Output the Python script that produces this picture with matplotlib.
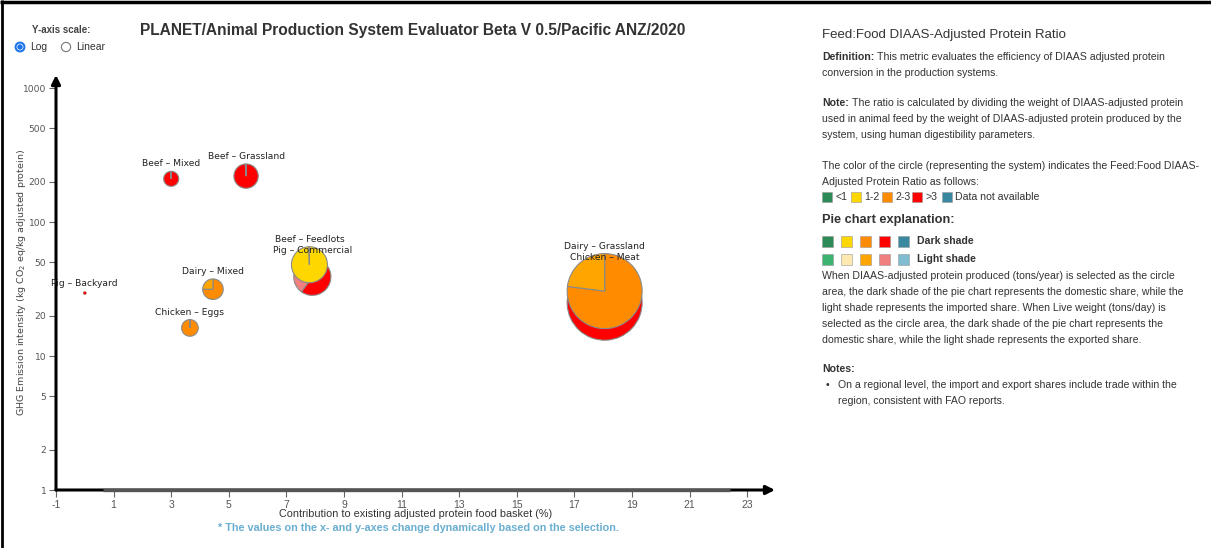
import matplotlib
matplotlib.use("Agg")
import matplotlib.pyplot as plt
from matplotlib.patches import Wedge, Circle, Rectangle
import numpy as np

# ---- data -------------------------------------------------------------
systems = ["Chicken – Meat", "Dairy – Grassland", "Pig – Commercial", "Beef – Feedlots",
           "Beef – Grassland", "Beef – Mixed", "Dairy – Mixed", "Chicken – Eggs", "Pig – Backyard"]
contribution = [18.05, 18.05, 7.9, 7.8, 5.6, 3.0, 4.45, 3.65, 0.0]        # % of protein basket
ghg_intensity = [25.0, 30.5, 39.0, 48.0, 220.0, 210.0, 31.5, 16.2, 29.5]   # kg CO2 eq / kg adj. protein
protein_produced = [100.0, 100.0, 24.5, 23.0, 10.5, 4.0, 7.5, 4.9, 0.18]  # relative, circle area
domestic_share = [0.99, 0.77, 0.60, 0.995, 0.99, 0.99, 0.75, 0.995, 1.0]
ratio_class = [">3", "2-3", ">3", "1-2", ">3", ">3", "2-3", "2-3", ">3"]

ratio_labels = ["<1", "1-2", "2-3", ">3", "Data not available"]
dark_colors = {"<1": "#2e8b57", "1-2": "#ffd700", "2-3": "#ff8c00", ">3": "#ff0000",
               "Data not available": "#3a87a0"}
light_colors = {"<1": "#3cb371", "1-2": "#fde8b0", "2-3": "#ffa500", ">3": "#f08080",
                "Data not available": "#7fbccf"}

x_ticks = list(range(-1, 24, 2))
y_ticks = [1, 2, 5, 10, 20, 50, 100, 200, 500, 1000]

W, H = 1211, 548
fig = plt.figure(figsize=(W / 100, H / 100), dpi=100)
fig.patch.set_facecolor("white")

# main scatter axes
ax = fig.add_axes([56 / W, (H - 490) / H, (775 - 56) / W, (490 - 75) / H])
ax.set_yscale("log")
ax.set_xlim(-1, -1 + 719 / 28.8)
ax.set_ylim(1, 10 ** (415 / 134))
for s in ax.spines.values():
    s.set_visible(False)
ax.set_xticks(x_ticks)
ax.set_xticklabels([str(t) for t in x_ticks])
ax.set_yticks(y_ticks)
ax.set_yticklabels([str(t) for t in y_ticks])
ax.yaxis.set_minor_locator(matplotlib.ticker.NullLocator())
ax.tick_params(axis="both", direction="out", length=5, width=0.8, color="#666",
               labelcolor="#555", labelsize=6.6, pad=2)
for lab in ax.get_xticklabels():
    lab.set_family("Liberation Sans")
    lab.set_fontsize(7.5)
ax.patch.set_alpha(0)

# axis lines with arrow heads
ax.annotate("", xy=(1.0, 0), xytext=(0, 0), xycoords="axes fraction",
            arrowprops=dict(arrowstyle="-|>", lw=2.2, color="black", mutation_scale=13,
                            shrinkA=0, shrinkB=0))
ax.plot([0.63, 22.4], [1, 1], color="#555", lw=2.4, solid_capstyle="butt",
        clip_on=False, zorder=5)
ax.annotate("", xy=(0, 1.0), xytext=(0, 0), xycoords="axes fraction",
            arrowprops=dict(arrowstyle="-|>", lw=2.2, color="black", mutation_scale=13,
                            shrinkA=0, shrinkB=0))

# overlay in pixel coordinates for pies and panel text
ov = fig.add_axes([0, 0, 1, 1])
ov.set_xlim(0, W)
ov.set_ylim(0, H)
ov.axis("off")
ov.patch.set_alpha(0)

rmax = 37.5
pmax = max(protein_produced)
label_font = dict(family="DejaVu Sans", fontsize=6.6, color="#222")
for name, xv, yv, pv, dom, cls in zip(systems, contribution, ghg_intensity,
                                      protein_produced, domestic_share, ratio_class):
    cx, cy = ax.transData.transform((xv, yv))
    r = rmax * np.sqrt(pv / pmax)
    ec = "#8a8a8a"
    lw = 0.8 if r > 3 else 0.3
    # domestic (dark) share runs clockwise from 12 o'clock, remainder is light
    ov.add_patch(Wedge((cx, cy), r, 90 - dom * 360, 90, facecolor=dark_colors[cls],
                       edgecolor=ec, lw=lw, zorder=3))
    if dom < 1:
        ov.add_patch(Wedge((cx, cy), r, 90, 90 + (1 - dom) * 360,
                           facecolor=light_colors[cls], edgecolor=ec, lw=lw, zorder=3))

for name, xv, yv, pv in zip(systems, contribution, ghg_intensity, protein_produced):
    cx, cy = ax.transData.transform((xv, yv))
    r = rmax * np.sqrt(pv / pmax)
    ov.text(cx, cy + r + 3, name, ha="center", va="bottom", zorder=6, **label_font)

# axis titles
fig.text(22 / W, 1 - 283 / H, "GHG Emission intensity (kg CO$_2$ eq/kg adjusted protein)",
         rotation=90, ha="center", va="center", fontsize=6.8, color="#444",
         family="DejaVu Sans")
fig.text(416 / W, 1 - 514 / H, "Contribution to existing adjusted protein food basket (%)",
         ha="center", va="center", fontsize=7.8, color="#333", family="Liberation Sans")
fig.text(418 / W, 1 - 528 / H,
         "* The values on the x- and y-axes change dynamically based on the selection.",
         ha="center", va="center", fontsize=7.8, color="#6aaed0", fontweight="bold",
         family="Liberation Sans")

# chart title
fig.text(412.5 / W, 1 - 31 / H,
         "PLANET/Animal Production System Evaluator Beta V 0.5/Pacific ANZ/2020",
         ha="center", va="center", fontsize=11.2, fontweight="bold", color="#333",
         family="Liberation Sans")

# y-axis scale selector
fig.text(61 / W, 1 - 30 / H, "Y-axis scale:", ha="center", va="center", fontsize=7,
         fontweight="bold", color="#444", family="Liberation Sans")
ov.add_patch(Circle((20, H - 47), 5, facecolor="#1a73e8", edgecolor="#1a73e8", lw=0.6))
ov.add_patch(Circle((20, H - 47), 3.4, facecolor="white", edgecolor="none"))
ov.add_patch(Circle((20, H - 47), 2.7, facecolor="#1a73e8", edgecolor="none"))
ov.text(30, H - 47, "Log", ha="left", va="center", fontsize=7.5, color="#333",
        family="Liberation Sans")
ov.add_patch(Circle((66, H - 47), 4.6, facecolor="white", edgecolor="#777", lw=0.8))
ov.text(76, H - 47, "Linear", ha="left", va="center", fontsize=7.5, color="#333",
        family="Liberation Sans")

# frame lines on the outer edge
ov.plot([0, W], [H - 2, H - 2], color="black", lw=2.5, solid_capstyle="butt")
ov.plot([2, 2], [0, H], color="black", lw=2.0, solid_capstyle="butt")

# ---- side panel ----------------------------------------------------------
renderer = fig.canvas.get_renderer()
body = dict(fontsize=7.6, color="#333", family="Liberation Sans", va="center", ha="left")
PX = 822


def line(y, text, bold_prefix=None, x=PX):
    xx = x
    if bold_prefix:
        t = ov.text(xx, H - y, bold_prefix, fontweight="bold", **body)
        bb = t.get_window_extent(renderer)
        xx = xx + bb.width + 3
    if text:
        ov.text(xx, H - y, text, **body)


ov.text(PX, H - 35, "Feed:Food DIAAS-Adjusted Protein Ratio", fontsize=9.5, color="#333",
        family="Liberation Sans", va="center", ha="left")
line(57, "This metric evaluates the efficiency of DIAAS adjusted protein", "Definition:")
line(73, "conversion in the production systems.")
line(103, "The ratio is calculated by dividing the weight of DIAAS-adjusted protein", "Note:")
line(119, "used in animal feed by the weight of DIAAS-adjusted protein produced by the")
line(135, "system, using human digestibility parameters.")
line(166, "The color of the circle (representing the system) indicates the Feed:Food DIAAS-")
line(182, "Adjusted Protein Ratio as follows:")

legend_x = [822, 851, 882, 912, 942]
for lx, lab in zip(legend_x, ratio_labels):
    ov.add_patch(Rectangle((lx, H - 202), 10, 10, facecolor=dark_colors[lab],
                           edgecolor="#999", lw=0.4))
    ov.text(lx + 13, H - 197, lab, **body)

ov.text(PX, H - 220, "Pie chart explanation:", fontsize=9.2, fontweight="bold",
        color="#333", family="Liberation Sans", va="center", ha="left")
for i, lab in enumerate(ratio_labels):
    sx = 822 + 19 * i
    ov.add_patch(Rectangle((sx, H - 246.5), 11, 11, facecolor=dark_colors[lab],
                           edgecolor="#999", lw=0.4))
    ov.add_patch(Rectangle((sx, H - 264.5), 11, 11, facecolor=light_colors[lab],
                           edgecolor="#999", lw=0.4))
ov.text(917, H - 241, "Dark shade", fontweight="bold", **body)
ov.text(917, H - 259, "Light shade", fontweight="bold", **body)

line(276, "When DIAAS-adjusted protein produced (tons/year) is selected as the circle")
line(292, "area, the dark shade of the pie chart represents the domestic share, while the")
line(308, "light shade represents the imported share. When Live weight (tons/day) is")
line(324, "selected as the circle area, the dark shade of the pie chart represents the")
line(340, "domestic share, while the light shade represents the exported share.")

ov.text(PX, H - 369, "Notes:", fontweight="bold", **body)
ov.text(826, H - 385, "•", **body)
line(385, "On a regional level, the import and export shares include trade within the", x=838)
line(401, "region, consistent with FAO reports.", x=838)

fig.savefig("out.png", dpi=100, facecolor="white")
